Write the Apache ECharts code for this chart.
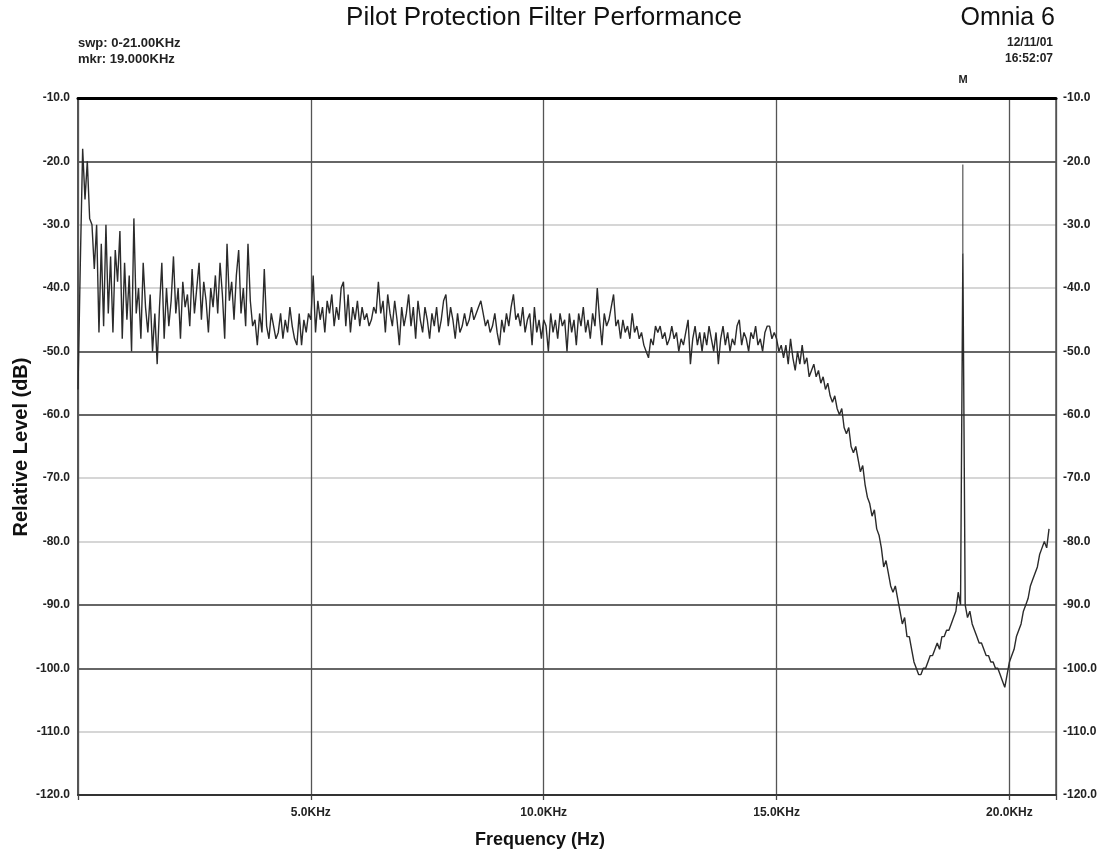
<!DOCTYPE html>
<html><head><meta charset="utf-8">
<script src="https://cdn.jsdelivr.net/npm/echarts@6/dist/echarts.min.js"></script>
<style>html,body{margin:0;padding:0;background:#fff}#c{width:1098px;height:853px}</style>
</head><body><div id="c"></div>
<script>
// Sweep sample spacing (kHz) and measured levels (dB), one row per kHz
const STEP_KHZ = 0.05;
const levelDb = [
  -56,-36,-18,-26,-20,-29,-30,-37,-30,-47,-33,-46,-30,-44,-35,-47,-34,-39,-31,-48,   // 0 kHz
  -36,-45,-38,-50,-29,-44,-40,-48,-36,-43,-47,-41,-50,-44,-52,-43,-36,-48,-40,-46,   // 1
  -42,-35,-44,-40,-48,-39,-43,-41,-46,-37,-44,-40,-36,-45,-39,-42,-47,-40,-43,-38,   // 2
  -44,-36,-41,-48,-33,-42,-39,-45,-38,-34,-44,-40,-46,-33,-42,-46,-45,-49,-44,-47,   // 3
  -37,-46,-48,-44,-46,-48,-47,-44,-48,-45,-47,-43,-46,-48,-49,-44,-49,-45,-47,-44,   // 4
  -45,-38,-47,-42,-45,-43,-47,-42,-44,-41,-46,-43,-45,-40,-39,-46,-41,-47,-43,-45,   // 5
  -42,-46,-43,-45,-44,-46,-45,-43,-44,-39,-44,-42,-47,-41,-44,-46,-42,-45,-49,-43,   // 6
  -46,-44,-41,-46,-43,-48,-42,-45,-47,-43,-45,-48,-44,-46,-43,-47,-45,-42,-41,-46,   // 7
  -43,-45,-48,-44,-47,-46,-44,-46,-45,-43,-45,-44,-43,-42,-44,-46,-45,-47,-46,-44,   // 8
  -47,-49,-45,-47,-44,-46,-43,-41,-45,-44,-46,-43,-47,-45,-44,-49,-43,-47,-45,-48,   // 9
  -45,-46,-50,-44,-47,-45,-48,-44,-46,-45,-50,-44,-47,-45,-49,-44,-46,-43,-47,-45,   // 10
  -48,-44,-46,-40,-45,-49,-44,-46,-45,-43,-41,-46,-45,-48,-45,-47,-46,-48,-44,-47,   // 11
  -46,-48,-47,-49,-50,-51,-48,-49,-46,-47,-46,-48,-47,-49,-48,-46,-48,-47,-50,-48,   // 12
  -49,-47,-45,-52,-48,-46,-49,-47,-50,-47,-49,-46,-48,-50,-47,-52,-48,-46,-49,-47,   // 13
  -50,-48,-49,-46,-45,-49,-47,-48,-50,-47,-48,-46,-49,-48,-50,-47,-46,-46,-48,-47,   // 14
  -48,-50,-49,-51,-49,-52,-48,-51,-53,-50,-52,-49,-52,-51,-54,-53,-52,-54,-53,-55,   // 15
  -54,-56,-55,-57,-58,-57,-59,-60,-59,-62,-63,-62,-65,-66,-65,-67,-69,-68,-71,-73,   // 16
  -74,-76,-75,-78,-79,-81,-84,-83,-85,-87,-88,-87,-89,-91,-93,-92,-95,-95,-97,-99,   // 17
  -100,-101,-101,-100,-100,-99,-98,-98,-97,-96,-97,-95,-95,-94,-94,-93,-92,-91,-88,-90, // 18
  -34.5,-90,-92,-91,-93,-94,-95,-96,-96,-97,-98,-98,-99,-99,-100,-100,-101,-102,-103,-101, // 19
  -99,-98,-97,-95,-94,-93,-91,-90,-89,-87,-86,-85,-84,-82,-81,-80,-81,-78            // 20
];
const pilotFreqKHz = 19.0;
const pilotPeakDb = -20.5;
const yMin = -120, yMax = -10, yStep = 10;
const xMin = 0, xMax = 21, xStep = 5;

const FONT = '"Liberation Sans", Arial, sans-serif';
const trace = levelDb.map((v, i) => [+(i * STEP_KHZ).toFixed(2), v]);
const pilotIdx = Math.round(pilotFreqKHz / STEP_KHZ);
const pilotLine = [[pilotFreqKHz, levelDb[pilotIdx]], [pilotFreqKHz, pilotPeakDb]];

const chart = echarts.init(document.getElementById('c'), null, {renderer: 'canvas'});
const yLabel = {formatter: v => v.toFixed(1), fontWeight: 'bold', fontSize: 12, color: '#222', fontFamily: FONT};
chart.setOption({
  animation: false,
  backgroundColor: '#fff',
  grid: {left: 78, right: 42, top: 98, bottom: 58, containLabel: false, outerBoundsMode: 'none'},
  xAxis: [
    {type: 'value', min: xMin, max: xMax, interval: xStep, position: 'bottom',
     axisLine: {show: true, onZero: false, lineStyle: {color: '#333', width: 2}},
     axisTick: {show: true, length: 5, lineStyle: {color: '#444', width: 1.3}},
     axisLabel: {formatter: v => (v > 0 && v <= 20) ? v.toFixed(1) + 'KHz' : '', fontWeight: 'bold', fontSize: 12, color: '#222', margin: 12, fontFamily: FONT},
     splitLine: {show: true, lineStyle: {color: '#555', width: 1.3}}},
    {type: 'value', min: xMin, max: xMax, position: 'top',
     axisLine: {show: true, onZero: false, lineStyle: {color: '#000', width: 3}},
     axisTick: {show: false}, axisLabel: {show: false}, splitLine: {show: false}}
  ],
  yAxis: [
    {type: 'value', min: yMin, max: yMax, interval: yStep, position: 'left',
     axisLine: {show: true, onZero: false, lineStyle: {color: '#555', width: 2}},
     axisTick: {show: false},
     axisLabel: Object.assign({margin: 8}, yLabel),
     splitLine: {show: true, lineStyle: {color: ['#c8c8c8', '#c8c8c8', '#333', '#333'], width: 1.5}}},
    {type: 'value', min: yMin, max: yMax, interval: yStep, position: 'right',
     axisLine: {show: true, onZero: false, lineStyle: {color: '#555', width: 1.5}},
     axisTick: {show: false},
     axisLabel: Object.assign({margin: 7}, yLabel),
     splitLine: {show: false}}
  ],
  graphic: [
    {type: 'text', x: 544, y: 18, style: {text: 'Pilot Protection Filter Performance', font: 'normal 26px ' + FONT, fill: '#111', align: 'center', verticalAlign: 'middle'}},
    {type: 'text', x: 1055, y: 18, style: {text: 'Omnia 6', font: 'normal 25px ' + FONT, fill: '#111', align: 'right', verticalAlign: 'middle'}},
    {type: 'text', x: 78, y: 43, style: {text: 'swp: 0-21.00KHz', font: 'bold 13px ' + FONT, fill: '#222', align: 'left', verticalAlign: 'middle'}},
    {type: 'text', x: 78, y: 59, style: {text: 'mkr: 19.000KHz', font: 'bold 13px ' + FONT, fill: '#222', align: 'left', verticalAlign: 'middle'}},
    {type: 'text', x: 1053, y: 43, style: {text: '12/11/01', font: 'bold 12px ' + FONT, fill: '#222', align: 'right', verticalAlign: 'middle'}},
    {type: 'text', x: 1053, y: 59, style: {text: '16:52:07', font: 'bold 12px ' + FONT, fill: '#222', align: 'right', verticalAlign: 'middle'}},
    {type: 'text', x: 963, y: 80, style: {text: 'M', font: 'bold 11px ' + FONT, fill: '#222', align: 'center', verticalAlign: 'middle'}},
    {type: 'text', x: 540, y: 840, style: {text: 'Frequency (Hz)', font: 'bold 18px ' + FONT, fill: '#111', align: 'center', verticalAlign: 'middle'}},
    {type: 'text', x: 21, y: 447, rotation: Math.PI / 2, style: {text: 'Relative Level (dB)', font: 'bold 20px ' + FONT, fill: '#111', align: 'center', verticalAlign: 'middle'}}
  ],
  series: [
    {type: 'line', name: 'Level', data: trace, showSymbol: false, symbol: 'none',
     lineStyle: {color: '#2b2b2b', width: 1.4}, z: 5},
    {type: 'line', name: 'Pilot', data: pilotLine, showSymbol: false, symbol: 'none',
     lineStyle: {color: '#333', width: 1}, z: 5}
  ]
});
</script></body></html>
